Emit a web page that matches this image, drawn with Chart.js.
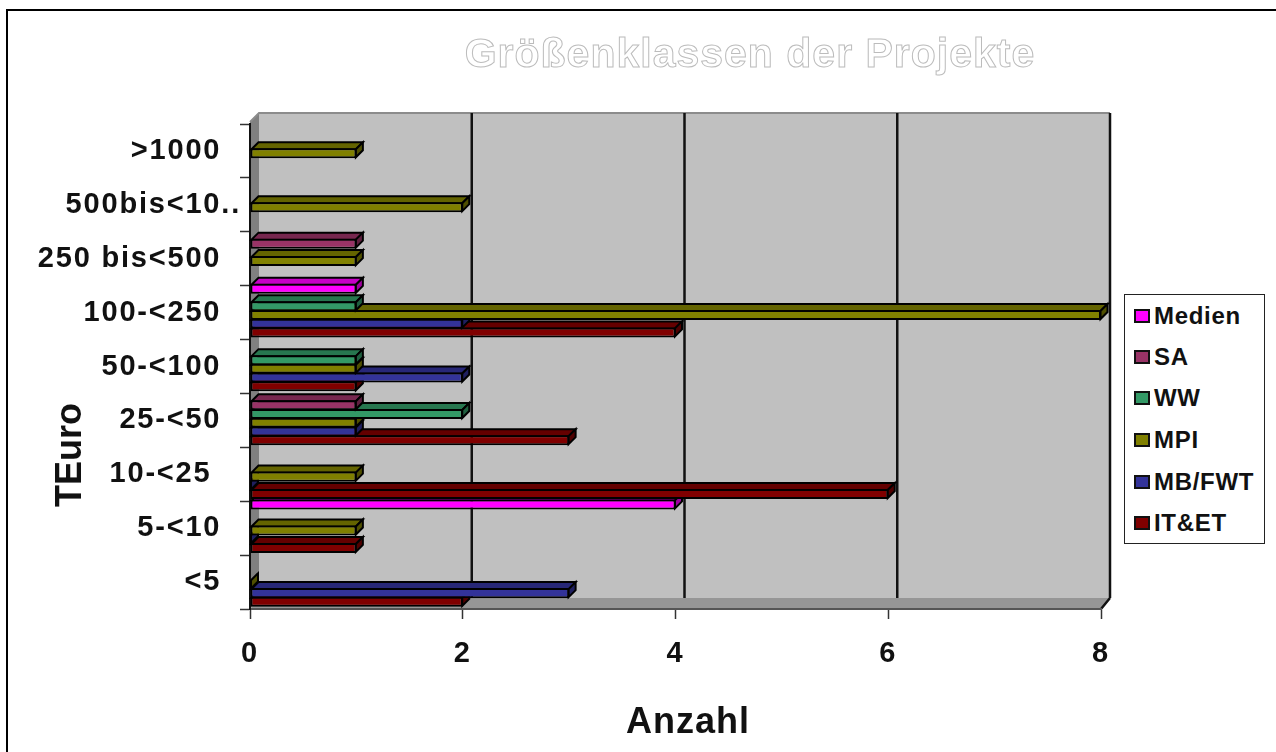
<!DOCTYPE html>
<html>
<head>
<meta charset="utf-8">
<title>Größenklassen der Projekte</title>
<script src="https://cdn.jsdelivr.net/npm/chart.js@4"></script>
<style>
    html, body { margin: 0; padding: 0; background: #fff; overflow: hidden; }
    body { width: 1276px; height: 752px; position: relative; font-family: "Liberation Sans", Arial, sans-serif; font-weight: bold; color: #111; }
    canvas { position: absolute; left: 0; top: 0; }
    .frame-top { position: absolute; left: 6px; top: 9px; width: 1270px; height: 2px; background: #000; }
    .frame-left { position: absolute; left: 6px; top: 9px; width: 2px; height: 743px; background: #000; }
    #chartTitle { position: absolute; left: 350px; width: 800px; top: 30px; text-align: center; font-size: 41px; line-height: 46px; letter-spacing: 1px; color: #fff; -webkit-text-stroke: 1px #bcbcbc; }
    #xTitle { position: absolute; left: 488px; width: 400px; top: 699px; text-align: center; font-size: 36px; line-height: 44px; letter-spacing: 1px; }
    #yTitle { position: absolute; left: -131px; width: 400px; top: 433px; text-align: center; font-size: 36px; line-height: 44px; transform: rotate(-90deg); }
    #legend { position: absolute; left: 1124px; top: 294px; width: 139px; height: 248px; border: 1px solid #222; background: #fff; }
    #legend div { position: absolute; left: 29px; font-size: 24px; line-height: 28px; letter-spacing: 0.7px; white-space: nowrap; }
    #legend i { position: absolute; left: -20px; top: 7px; width: 12px; height: 10px; border: 2px solid #111; }
</style>
</head>
<body>
<canvas id="chart" width="1276" height="752"></canvas>
<div class="frame-top"></div>
<div class="frame-left"></div>
<div id="chartTitle">Größenklassen der Projekte</div>
<div id="xTitle">Anzahl</div>
<div id="yTitle">TEuro</div>
<div id="legend"></div>

<script>
// data, null = no bar, 0 = only a stub
const categories = ['>1000', '500bis<10..', '250 bis<500', '100-<250', '50-<100', '25-<50', '10-<25', '5-<10', '<5'];
const medien = [null, null, null, 1, null, null, null, 4, null];
const sa = [null, null, 1, null, null, 1, null, null, null];
const ww = [null, null, null, 1, 1, 2, null, null, null];
const mpi = [1, 2, 1, 8, 1, 1, 1, 1, 0];
const mbFwt = [null, null, null, 2, 2, 1, 0, 0, 3];
const itEt = [null, null, null, 4, 1, 3, 6, 1, 2];
const seriesNames = ['Medien', 'SA', 'WW', 'MPI', 'MB/FWT', 'IT&ET'];
const seriesColors = ['#ff00ff', '#993366', '#339966', '#808000', '#333399', '#800000'];
const seriesValues = [medien, sa, ww, mpi, mbFwt, itEt];
const xTicks = [0, 2, 4, 6, 8];

const BAR_DEPTH = 7;
const WALL_DEPTH = 9;
const LETTER_SPACING = '1.8px';
const tickFont = { family: '"Liberation Sans", Arial, sans-serif', size: 29, weight: 'bold' };

function poly(ctx, points, fill, stroke, lineWidth) {
    ctx.beginPath();
    points.forEach((p, i) => i ? ctx.lineTo(p[0], p[1]) : ctx.moveTo(p[0], p[1]));
    ctx.closePath();
    ctx.fillStyle = fill;
    ctx.fill();
    if (stroke) {
        ctx.strokeStyle = stroke;
        ctx.lineWidth = lineWidth;
        ctx.stroke();
    }
}

// top and right side of one bar, the front comes from the bar element
function drawBarFaces(ctx, el, color) {
    const top = el.y - el.height / 2 + 1;
    const bottom = el.y + el.height / 2 - 1;
    const left = el.base + 1;
    const right = Math.max(el.x - 0.5, left);
    const d = BAR_DEPTH;
    const topFace = [[left, top], [left + d, top - d], [right + d, top - d], [right, top]];
    const sideFace = [[right, top], [right + d, top - d], [right + d, bottom - d], [right, bottom]];
    poly(ctx, topFace, color, '#000', 2);
    poly(ctx, topFace, 'rgba(0,0,0,0.22)');
    poly(ctx, sideFace, color, '#000', 2);
    poly(ctx, sideFace, 'rgba(0,0,0,0.38)');
}

const box3d = {
    id: 'box3d',
    beforeUpdate(chart) {
        chart.ctx.letterSpacing = LETTER_SPACING;
    },
    beforeDraw(chart) {
        const ctx = chart.ctx;
        const a = chart.chartArea;
        const x = chart.scales.x;
        const d = WALL_DEPTH;
        const backTop = a.top - 11;
        const backBottom = a.bottom - 11;
        ctx.save();
        // back wall, side wall, floor
        poly(ctx, [[a.left + d, backTop], [a.right + d, backTop], [a.right + d, backBottom], [a.left + d, backBottom]], '#c0c0c0');
        poly(ctx, [[a.left, a.top - 2], [a.left + d, backTop], [a.left + d, backBottom], [a.left, a.bottom]], '#808080');
        poly(ctx, [[a.left + d, backBottom], [a.right + d, backBottom], [a.right, a.bottom], [a.left, a.bottom]], '#969696');
        ctx.strokeStyle = '#8c8c8c';
        ctx.lineWidth = 2;
        ctx.beginPath();
        ctx.moveTo(a.left, a.top - 2);
        ctx.lineTo(a.left + d, backTop);
        ctx.lineTo(a.right + d, backTop);
        ctx.stroke();
        // grid lines stand on the back wall
        ctx.strokeStyle = '#111';
        ctx.lineWidth = 2.5;
        ctx.beginPath();
        x.ticks.forEach(t => {
            if (t.value === 0) return;
            const px = x.getPixelForValue(t.value) + d;
            ctx.moveTo(px, backTop);
            ctx.lineTo(px, backBottom);
        });
        ctx.moveTo(a.right + d, backBottom);
        ctx.lineTo(a.right, a.bottom);
        ctx.stroke();
        ctx.restore();
    },
    beforeDatasetsDraw(chart) {
        // painted bottom up, each bar covers the top face of the one below
        const ctx = chart.ctx;
        const metas = chart.data.datasets.map((ds, i) => chart.getDatasetMeta(i));
        ctx.save();
        ctx.translate(0, -2);
        for (let c = categories.length - 1; c >= 0; c--) {
            for (let s = metas.length - 1; s >= 0; s--) {
                if (seriesValues[s][c] === null) continue;
                const el = metas[s].data[c];
                drawBarFaces(ctx, el, seriesColors[s]);
                if (seriesValues[s][c] > 0) el.draw(ctx);
            }
        }
        ctx.restore();
        return false;
    }
};

const chart = new Chart(document.getElementById('chart').getContext('2d'), {
    type: 'bar',
    data: {
        labels: categories,
        datasets: seriesNames.map((name, i) => ({
            label: name,
            data: seriesValues[i],
            backgroundColor: seriesColors[i],
            borderColor: '#000',
            borderWidth: 2,
            borderSkipped: false,
            categoryPercentage: 0.97,
            barPercentage: 1.15
        }))
    },
    options: {
        indexAxis: 'y',
        responsive: false,
        animation: false,
        devicePixelRatio: 1,
        layout: { padding: { top: 124, right: 175, left: 0, bottom: 0 } },
        plugins: { legend: { display: false }, title: { display: false }, tooltip: { enabled: false } },
        scales: {
            x: {
                min: 0,
                max: 8,
                afterFit(scale) { scale.height = 143; },
                afterBuildTicks(scale) { scale.ticks = xTicks.map(v => ({ value: v })); },
                grid: { drawOnChartArea: false, tickLength: 10, tickColor: '#333', tickWidth: 1.5 },
                border: { color: '#555', width: 2 },
                ticks: { font: tickFont, color: '#111', padding: 18, maxRotation: 0, autoSkip: false }
            },
            y: {
                afterFit(scale) { scale.width = 250; },
                grid: { offset: true, drawOnChartArea: false, tickLength: 10, tickColor: '#333', tickWidth: 1.5 },
                border: { color: '#111', width: 2 },
                ticks: {
                    font: tickFont,
                    color: '#111',
                    padding: -1,
                    autoSkip: false,
                    // the labels do not line up on the right in the picture
                    callback(value, index) {
                        const label = categories[index];
                        if (label.startsWith('500')) return label;
                        return label.startsWith('10-') ? label + '   ' : label + '  ';
                    }
                }
            }
        }
    },
    plugins: [box3d]
});

// legend box
const legendRows = [21, 62, 103, 145, 187, 228];
const legendBox = document.getElementById('legend');
seriesNames.forEach((name, i) => {
    const row = document.createElement('div');
    row.style.top = (legendRows[i] - 14) + 'px';
    row.textContent = name;
    const swatch = document.createElement('i');
    swatch.style.background = seriesColors[i];
    row.appendChild(swatch);
    legendBox.appendChild(row);
});
</script>
</body>
</html>
